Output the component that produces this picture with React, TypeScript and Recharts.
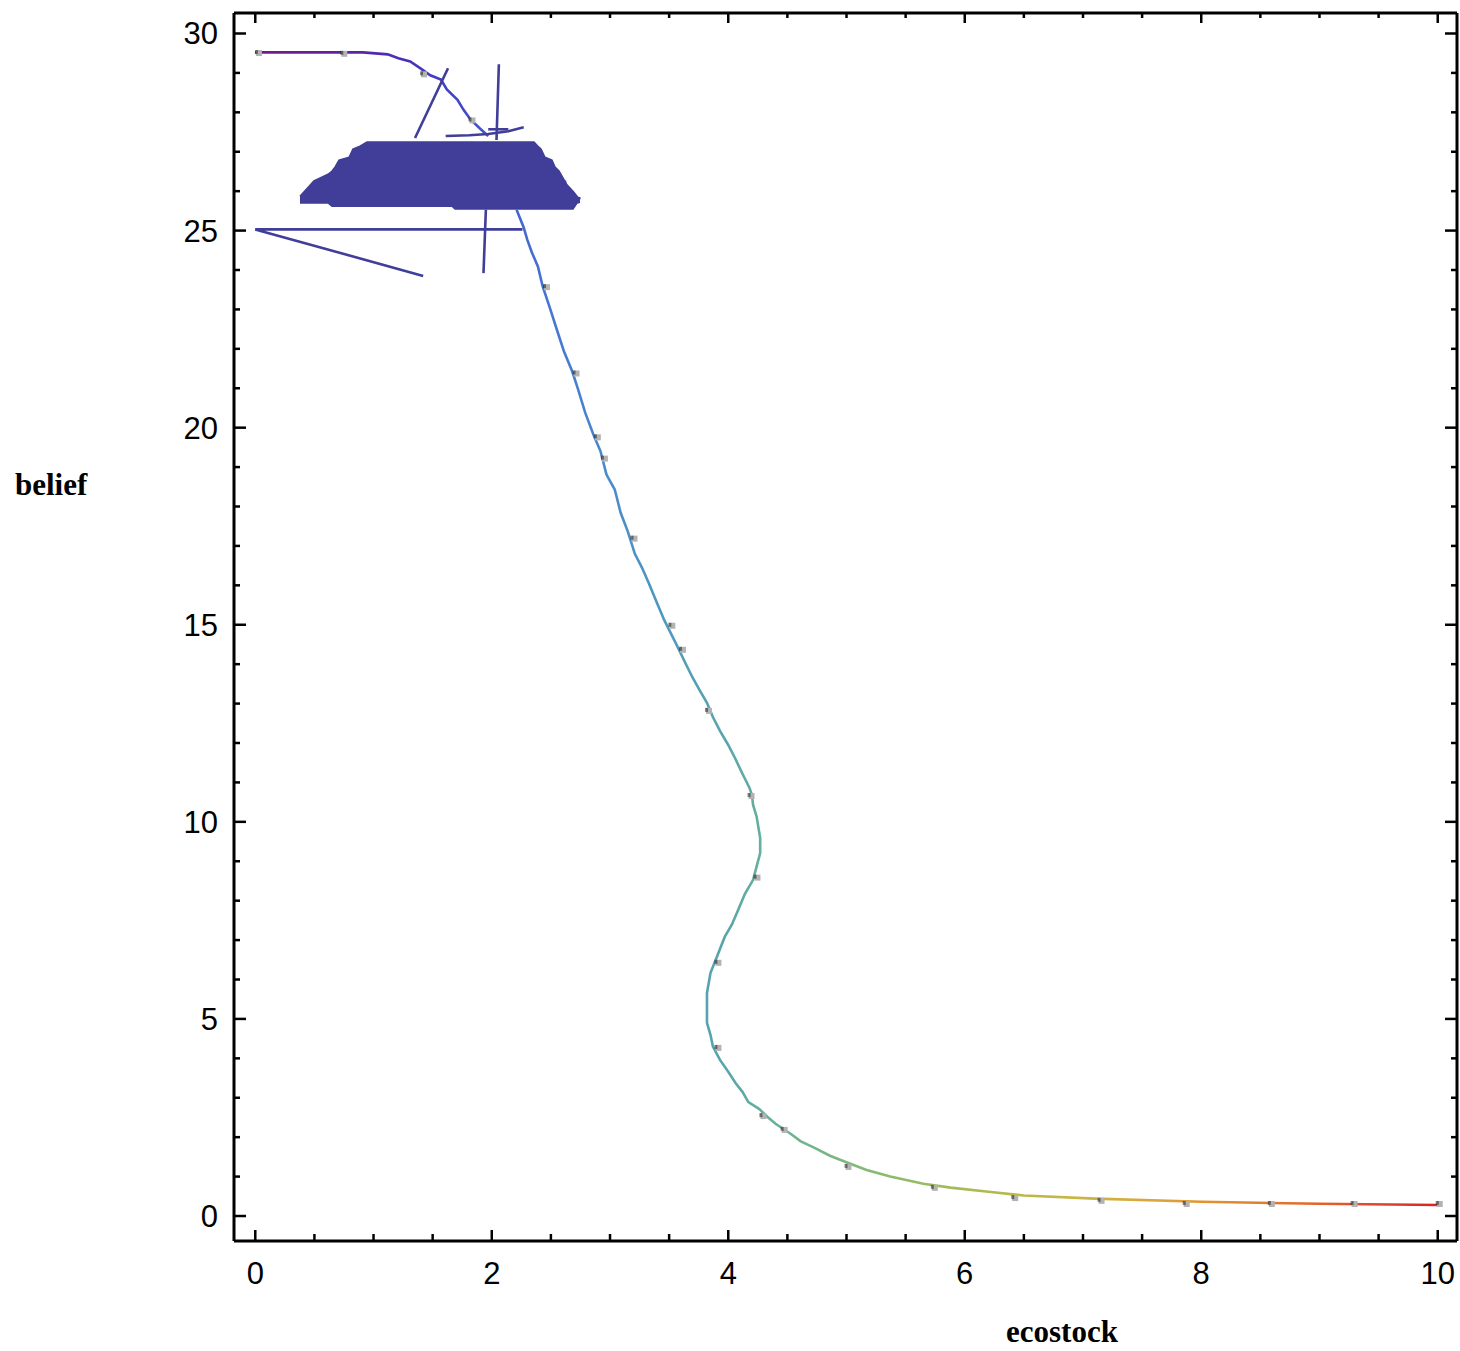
import React from 'react';
import { ComposedChart, Line, Area, Scatter, XAxis, YAxis } from 'recharts';

// ---- data ----
const xTicks = [0, 0.5, 1, 1.5, 2, 2.5, 3, 3.5, 4, 4.5, 5, 5.5, 6, 6.5, 7, 7.5, 8, 8.5, 9, 9.5, 10];
const yTicks = [0, 1, 2, 3, 4, 5, 6, 7, 8, 9, 10, 11, 12, 13, 14, 15, 16, 17, 18, 19, 20, 21, 22, 23, 24, 25, 26, 27, 28, 29, 30];

// trajectory; the null entry is the part hidden under the dense region
const trajectory = [
  { x: 0.0, y: 29.52 }, { x: 0.91, y: 29.52 }, { x: 1.12, y: 29.47 }, { x: 1.21, y: 29.37 },
  { x: 1.31, y: 29.29 }, { x: 1.4, y: 29.11 }, { x: 1.48, y: 28.94 }, { x: 1.57, y: 28.83 },
  { x: 1.62, y: 28.58 }, { x: 1.71, y: 28.32 }, { x: 1.76, y: 28.07 }, { x: 1.82, y: 27.82 },
  { x: 1.9, y: 27.59 }, { x: 1.97, y: 27.4 }, { x: 2.1, y: null }, { x: 2.21, y: 25.53 },
  { x: 2.27, y: 25.08 }, { x: 2.3, y: 24.77 }, { x: 2.34, y: 24.44 }, { x: 2.39, y: 24.09 },
  { x: 2.43, y: 23.59 }, { x: 2.49, y: 23.05 }, { x: 2.55, y: 22.49 }, { x: 2.61, y: 21.94 },
  { x: 2.68, y: 21.43 }, { x: 2.73, y: 20.97 }, { x: 2.79, y: 20.38 }, { x: 2.86, y: 19.82 },
  { x: 2.92, y: 19.4 }, { x: 2.97, y: 18.81 }, { x: 3.04, y: 18.43 }, { x: 3.09, y: 17.84 },
  { x: 3.15, y: 17.37 }, { x: 3.21, y: 16.8 }, { x: 3.27, y: 16.45 }, { x: 3.33, y: 16.04 },
  { x: 3.4, y: 15.53 }, { x: 3.46, y: 15.11 }, { x: 3.52, y: 14.75 }, { x: 3.58, y: 14.39 },
  { x: 3.64, y: 14.01 }, { x: 3.7, y: 13.65 }, { x: 3.76, y: 13.33 }, { x: 3.82, y: 13.02 },
  { x: 3.87, y: 12.66 }, { x: 3.93, y: 12.31 }, { x: 4.0, y: 11.95 }, { x: 4.06, y: 11.6 },
  { x: 4.12, y: 11.22 }, { x: 4.18, y: 10.86 }, { x: 4.2, y: 10.68 }, { x: 4.21, y: 10.43 },
  { x: 4.24, y: 10.13 }, { x: 4.27, y: 9.59 }, { x: 4.27, y: 9.21 }, { x: 4.24, y: 8.87 },
  { x: 4.21, y: 8.53 }, { x: 4.14, y: 8.17 }, { x: 4.08, y: 7.74 }, { x: 4.03, y: 7.39 },
  { x: 3.97, y: 7.08 }, { x: 3.91, y: 6.62 }, { x: 3.85, y: 6.17 }, { x: 3.82, y: 5.66 },
  { x: 3.82, y: 4.9 }, { x: 3.85, y: 4.59 }, { x: 3.87, y: 4.3 }, { x: 3.93, y: 3.96 },
  { x: 4.0, y: 3.66 }, { x: 4.06, y: 3.38 }, { x: 4.12, y: 3.15 }, { x: 4.17, y: 2.89 },
  { x: 4.26, y: 2.72 }, { x: 4.33, y: 2.52 }, { x: 4.4, y: 2.34 }, { x: 4.53, y: 2.08 },
  { x: 4.61, y: 1.9 }, { x: 4.73, y: 1.73 }, { x: 4.86, y: 1.53 }, { x: 5.01, y: 1.35 },
  { x: 5.17, y: 1.17 }, { x: 5.37, y: 1.0 }, { x: 5.65, y: 0.82 }, { x: 5.88, y: 0.72 },
  { x: 6.22, y: 0.61 }, { x: 6.5, y: 0.52 }, { x: 7.1, y: 0.44 }, { x: 8.0, y: 0.36 },
  { x: 9.0, y: 0.31 }, { x: 10.0, y: 0.28 },
];

// dense unstable region (lower / upper envelope)
const blobRegion = [
  { x: 0.378, range: [25.7, 25.87] }, { x: 0.496, range: [25.7, 26.26] },
  { x: 0.615, range: [25.7, 26.43] }, { x: 0.649, range: [25.62, 26.51] },
  { x: 0.674, range: [25.62, 26.61] }, { x: 0.708, range: [25.62, 26.79] },
  { x: 0.793, range: [25.62, 26.86] }, { x: 0.826, range: [25.62, 27.07] },
  { x: 0.885, range: [25.62, 27.14] }, { x: 0.945, range: [25.62, 27.25] },
  { x: 1.664, range: [25.62, 27.25] }, { x: 1.689, range: [25.55, 27.25] },
  { x: 2.357, range: [25.55, 27.25] }, { x: 2.391, range: [25.55, 27.14] },
  { x: 2.416, range: [25.55, 27.07] }, { x: 2.45, range: [25.55, 26.86] },
  { x: 2.509, range: [25.55, 26.79] }, { x: 2.535, range: [25.55, 26.61] },
  { x: 2.569, range: [25.55, 26.51] }, { x: 2.636, range: [25.55, 26.16] },
  { x: 2.687, range: [25.55, 26.0] }, { x: 2.721, range: [25.7, 25.87] },
  { x: 2.746, range: [25.72, 25.8] },
];

const strayA = [{ x: 2.26, y: 25.03 }, { x: 0.0, y: 25.03 }, { x: 1.42, y: 23.85 }];
const strayB = [{ x: 2.06, y: 29.22 }, { x: 2.04, y: 27.3 }];
const strayC = [{ x: 1.95, y: 25.53 }, { x: 1.93, y: 23.92 }];
const strayD = [{ x: 1.351, y: 27.35 }, { x: 1.63, y: 29.12 }];
const strayE = [{ x: 1.61, y: 27.4 }, { x: 1.81, y: 27.42 }, { x: 1.97, y: 27.45 }, { x: 2.14, y: 27.52 }, { x: 2.27, y: 27.62 }];
const strayF = [{ x: 1.97, y: 27.57 }, { x: 2.14, y: 27.57 }];
const strayG = [{ x: 0.5, y: 26.24 }, { x: 2.63, y: 26.24 }];
const strayH = [{ x: 0.38, y: 25.82 }, { x: 2.75, y: 25.82 }];

const meshPoints = [
  { x: 0.014, y: 29.53 }, { x: 0.736, y: 29.51 }, { x: 1.41, y: 28.99 }, { x: 1.82, y: 27.82 },
  { x: 2.45, y: 23.59 }, { x: 2.7, y: 21.4 }, { x: 2.88, y: 19.78 }, { x: 2.94, y: 19.24 },
  { x: 3.19, y: 17.21 }, { x: 3.51, y: 15.0 }, { x: 3.6, y: 14.39 }, { x: 3.82, y: 12.84 },
  { x: 4.18, y: 10.68 }, { x: 4.23, y: 8.61 }, { x: 3.9, y: 6.45 }, { x: 3.9, y: 4.29 },
  { x: 4.28, y: 2.56 }, { x: 4.46, y: 2.21 }, { x: 5.0, y: 1.27 }, { x: 5.73, y: 0.74 },
  { x: 6.41, y: 0.48 }, { x: 7.14, y: 0.41 }, { x: 7.86, y: 0.33 }, { x: 8.58, y: 0.33 },
  { x: 9.28, y: 0.33 }, { x: 10.0, y: 0.33 },
];

// rainbow colour by ecostock (offset = x / 10)
const rainbowStops = [
  [0, '#741b86'], [0.08, '#5d22a3'], [0.13, '#4a30bb'], [0.16, '#4140c6'], [0.2, '#4159cc'],
  [0.25, '#4577d2'], [0.3, '#4a8bcc'], [0.35, '#4f9bbd'], [0.4, '#5aa6aa'], [0.43, '#66b09c'],
  [0.47, '#72b58a'], [0.52, '#85ba72'], [0.58, '#9fbb5c'], [0.64, '#b7b94a'], [0.7, '#cbb541'],
  [0.76, '#dca63a'], [0.8, '#e0952f'], [0.86, '#e27a2e'], [0.93, '#e05229'], [1, '#d82424'],
];

const BLOB = '#403e98';
const TICK_FONT = "'Liberation Sans', Arial, sans-serif";

const BottomTick = (p: any) => {
  const v = p.payload.value;
  const major = Math.abs(v % 2) < 1e-9;
  return (
    <g>
      <line x1={p.x} x2={p.x} y1={p.y} y2={p.y - (major ? 11 : 7)} stroke="#000" strokeWidth={2.5} />
      {major && (
        <text x={p.x} y={p.y + 43} textAnchor="middle" fontFamily={TICK_FONT} fontSize={31} fill="#000">
          {v}
        </text>
      )}
    </g>
  );
};
const TopTick = (p: any) => {
  const v = p.payload.value;
  const major = Math.abs(v % 2) < 1e-9;
  return <line x1={p.x} x2={p.x} y1={p.y} y2={p.y + (major ? 10 : 5)} stroke="#000" strokeWidth={2.5} />;
};
const LeftTick = (p: any) => {
  const v = p.payload.value;
  const major = v % 5 === 0;
  return (
    <g>
      <line x1={p.x} x2={p.x + (major ? 12 : 6)} y1={p.y} y2={p.y} stroke="#000" strokeWidth={2.5} />
      {major && (
        <text x={p.x - 16} y={p.y + 11} textAnchor="end" fontFamily={TICK_FONT} fontSize={31} fill="#000">
          {v}
        </text>
      )}
    </g>
  );
};
const RightTick = (p: any) => {
  const v = p.payload.value;
  const major = v % 5 === 0;
  return <line x1={p.x} x2={p.x - (major ? 12 : 6)} y1={p.y} y2={p.y} stroke="#000" strokeWidth={2.5} />;
};

const MeshMark = (p: any) => (
  <g>
    <rect x={p.cx - 1} y={p.cy - 2} width={6} height={6} fill="#b3b3b3" />
    <rect x={p.cx - 2} y={p.cy - 2} width={3} height={4} fill="#000" fillOpacity={0.45} />
  </g>
);

const axisLine = { stroke: '#000', strokeWidth: 3 };

export default function App() {
  return (
    <div style={{ position: 'absolute', left: 0, top: 0, width: 1460, height: 1351, background: '#fff' }}>
      <ComposedChart width={1460} height={1351} margin={{ top: 12, right: 2, bottom: 0, left: 0 }}>
        <defs>
          <linearGradient id="rainbow" x1="0" y1="0" x2="1" y2="0">
            {rainbowStops.map(([o, c]) => (
              <stop key={String(o)} offset={o as number} stopColor={c as string} />
            ))}
          </linearGradient>
        </defs>
        <XAxis xAxisId="b" dataKey="x" type="number" domain={[-0.18, 10.163]} allowDataOverflow
          ticks={xTicks} interval={0} tickSize={0} tickMargin={0} tickLine={false}
          axisLine={axisLine} tick={BottomTick} height={110} />
        <XAxis xAxisId="t" orientation="top" dataKey="x" type="number" domain={[-0.18, 10.163]} allowDataOverflow
          ticks={xTicks} interval={0} tickSize={0} tickMargin={0} tickLine={false}
          axisLine={axisLine} tick={TopTick} height={1} />
        <YAxis yAxisId="l" dataKey="y" type="number" domain={[-0.634, 30.52]} allowDataOverflow
          ticks={yTicks} interval={0} tickSize={0} tickMargin={0} tickLine={false}
          axisLine={axisLine} tick={LeftTick} width={234} />
        <YAxis yAxisId="r" orientation="right" dataKey="y" type="number" domain={[-0.634, 30.52]} allowDataOverflow
          ticks={yTicks} interval={0} tickSize={0} tickMargin={0} tickLine={false}
          axisLine={axisLine} tick={RightTick} width={1} />

        <Area xAxisId="b" yAxisId="l" data={blobRegion} dataKey="range" type="linear" stroke={BLOB}
          strokeWidth={1.5} fill={BLOB} fillOpacity={1} dot={false} activeDot={false} isAnimationActive={false} />
        <Line xAxisId="b" yAxisId="l" data={trajectory} dataKey="y" type="linear" stroke="url(#rainbow)"
          strokeWidth={2.6} dot={false} activeDot={false} connectNulls={false} isAnimationActive={false} />
        {[strayA, strayB, strayC, strayD, strayE, strayF, strayG, strayH].map((d, i) => (
          <Line key={i} xAxisId="b" yAxisId="l" data={d} dataKey="y" type="linear" stroke={BLOB}
            strokeWidth={2.6} dot={false} activeDot={false} isAnimationActive={false} />
        ))}
        <Scatter xAxisId="b" yAxisId="l" data={meshPoints} dataKey="y" shape={MeshMark} isAnimationActive={false} />
      </ComposedChart>
      <svg width={1460} height={1351} style={{ position: 'absolute', left: 0, top: 0, pointerEvents: 'none' }}>
        <text x={15} y={495} fontFamily="'Liberation Serif', 'Times New Roman', serif" fontWeight="bold" fontSize={31} fill="#000">belief</text>
        <text x={1006} y={1342} fontFamily="'Liberation Serif', 'Times New Roman', serif" fontWeight="bold" fontSize={31} fill="#000">ecostock</text>
      </svg>
    </div>
  );
}
